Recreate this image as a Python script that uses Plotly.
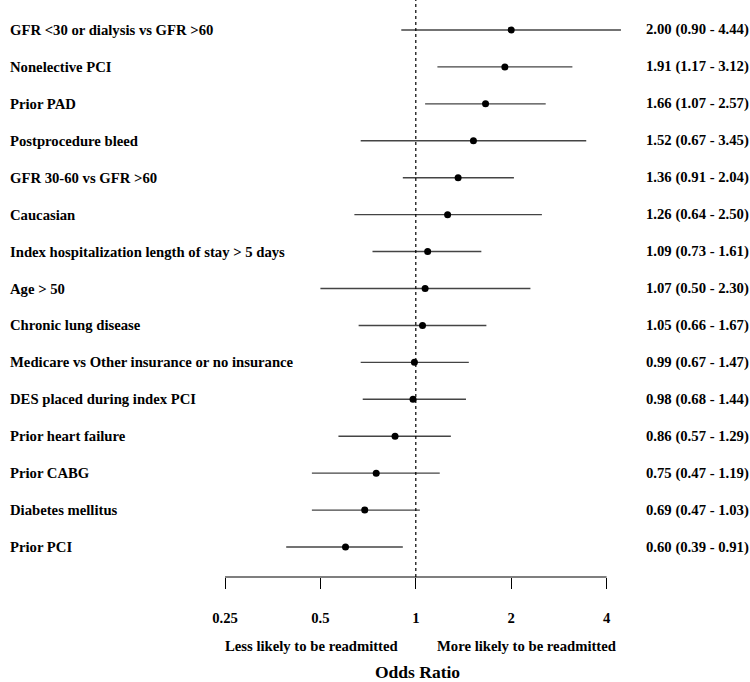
import plotly.graph_objects as go

labels = [
    "GFR <30 or dialysis vs GFR >60",
    "Nonelective PCI",
    "Prior PAD",
    "Postprocedure bleed",
    "GFR 30-60 vs GFR >60",
    "Caucasian",
    "Index hospitalization length of stay > 5 days",
    "Age > 50",
    "Chronic lung disease",
    "Medicare vs Other insurance or no insurance",
    "DES placed during index PCI",
    "Prior heart failure",
    "Prior CABG",
    "Diabetes mellitus",
    "Prior PCI",
]
odds = [2.00, 1.91, 1.66, 1.52, 1.36, 1.26, 1.09, 1.07, 1.05, 0.99, 0.98, 0.86, 0.75, 0.69, 0.60]
ci_low = [0.90, 1.17, 1.07, 0.67, 0.91, 0.64, 0.73, 0.50, 0.66, 0.67, 0.68, 0.57, 0.47, 0.47, 0.39]
ci_high = [4.44, 3.12, 2.57, 3.45, 2.04, 2.50, 1.61, 2.30, 1.67, 1.47, 1.44, 1.29, 1.19, 1.03, 0.91]
tick_vals = [0.25, 0.5, 1, 2, 4]
tick_text = ["0.25", "0.5", "1", "2", "4"]

n = len(labels)
ypos = [n - i for i in range(n)]
FONT = "Liberation Serif"
FS = 14.7

fig = go.Figure()
fig.add_trace(go.Scatter(
    x=odds, y=ypos, mode="markers",
    marker=dict(color="black", size=7),
    error_x=dict(type="data", symmetric=False,
                 array=[h - o for h, o in zip(ci_high, odds)],
                 arrayminus=[o - l for o, l in zip(odds, ci_low)],
                 color="#444444", thickness=1.4, width=0),
    showlegend=False, hoverinfo="skip",
))

# reference line at OR = 1
fig.add_shape(type="line", x0=1, x1=1, xref="x", y0=0, y1=1, yref="paper",
              line=dict(color="black", width=1.2, dash="dot"))
# axis line from first to last tick
fig.add_shape(type="line", x0=tick_vals[0], x1=tick_vals[-1], xref="x", y0=0, y1=0, yref="paper",
              line=dict(color="black", width=1.2))

for y, lab, o, l, h in zip(ypos, labels, odds, ci_low, ci_high):
    fig.add_annotation(x=-0.436, xref="paper", y=y, yref="y", text="<b>%s</b>" % lab,
                       showarrow=False, xanchor="left", yanchor="middle",
                       font=dict(family=FONT, size=FS, color="black"))
    fig.add_annotation(x=1.009, xref="paper", y=y, yref="y",
                       text="<b>%.2f (%.2f - %.2f)</b>" % (o, l, h),
                       showarrow=False, xanchor="left", yanchor="middle",
                       font=dict(family=FONT, size=FS, color="black"))

fig.add_annotation(x=0.2545, xref="paper", y=-0.1196, yref="paper", text="<b>Less likely to be readmitted</b>",
                   showarrow=False, xanchor="center", yanchor="middle",
                   font=dict(family=FONT, size=FS, color="black"))
fig.add_annotation(x=0.741, xref="paper", y=-0.1196, yref="paper", text="<b>More likely to be readmitted</b>",
                   showarrow=False, xanchor="center", yanchor="middle",
                   font=dict(family=FONT, size=FS, color="black"))
fig.add_annotation(x=0.495, xref="paper", y=-0.164, yref="paper", text="<b>Odds Ratio</b>",
                   showarrow=False, xanchor="center", yanchor="middle",
                   font=dict(family=FONT, size=17.5, color="black"))

fig.update_layout(
    width=750, height=682,
    margin=dict(l=200, r=110, t=0, b=105),
    paper_bgcolor="white", plot_bgcolor="white",
    xaxis=dict(type="log", range=[-0.681, 0.7075], tickvals=tick_vals,
               ticktext=["<b>%s</b>" % t for t in tick_text],
               ticks="outside", ticklen=11, tickwidth=1.2, tickcolor="black",
               showline=False, showgrid=False, zeroline=False,
               ticklabelstandoff=16,
               tickfont=dict(family=FONT, size=FS, color="black")),
    yaxis=dict(range=[0.188, n + 0.812], showticklabels=False, showgrid=False,
               zeroline=False, showline=False, ticks=""),
)
fig.write_html("out.html", config={"displayModeBar": False},
               post_script="document.body.style.margin='0';")
